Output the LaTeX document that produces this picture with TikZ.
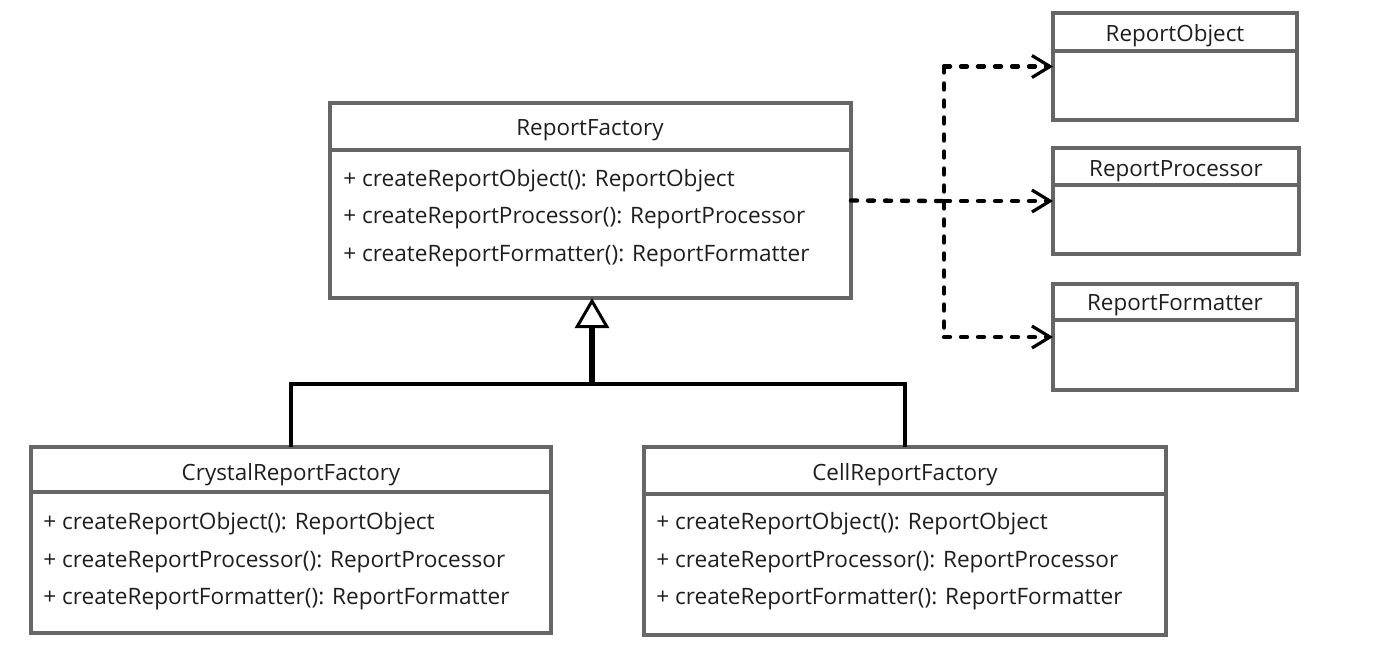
\documentclass[tikz,border=0pt]{standalone}
\usepackage{fontspec}
\setmainfont{Open Sans}
\usepackage{tikz}
\usetikzlibrary{arrows.meta, calc}

\definecolor{boxgray}{HTML}{666666}
\definecolor{inkblack}{HTML}{1E1E1E}

\tikzset{
    classbox/.style={draw=boxgray, line width=2pt, anchor=north west, inner sep=0pt, outer sep=0pt},
    divider/.style={draw=boxgray, line width=2pt},
    title/.style={font=\fontsize{11.2}{13}\selectfont, text=inkblack, inner sep=0pt},
    method/.style={font=\fontsize{11.3}{13}\selectfont, text=inkblack, anchor=west, inner sep=0pt},
    dep/.style={draw=black, line width=2.2pt, line cap=round, dash pattern=on 3pt off 5.5pt},
    deptip/.style={-{Straight Barb[length=9pt, width=11pt, line width=1.6pt]}},
    inh/.style={draw=black, line width=2pt},
    gen/.style={draw=black, line width=3pt, -{Triangle[open, fill=white, length=15pt, width=17pt, line width=1.5pt]}}
}

\begin{document}
\begin{tikzpicture}[x=0.5pt, y=-0.5pt]
    \useasboundingbox (0,0) rectangle (1400,647);

    % abstract factory
    \node[classbox, minimum width=260.5pt, minimum height=97.5pt] (fac) at (330,103) {};
    \draw[divider] (330,150) -- (851,150);
    \node[title] (facTitle) at (590,130) {ReportFactory};
    \node[method] (facM1) at (343,181) {+ createReportObject(): ReportObject};
    \node[method] (facM2) at (343,218) {+ createReportProcessor(): ReportProcessor};
    \node[method] (facM3) at (343,256) {+ createReportFormatter(): ReportFormatter};

    % products
    \node[classbox, minimum width=122pt, minimum height=53.5pt] (obj) at (1053,13) {};
    \draw[divider] (1053,51) -- (1297,51);
    \node[title] (objTitle) at (1175,36) {ReportObject};

    \node[classbox, minimum width=123pt, minimum height=53pt] (proc) at (1053,148) {};
    \draw[divider] (1053,185) -- (1299,185);
    \node[title] (procTitle) at (1176,171) {ReportProcessor};

    \node[classbox, minimum width=122pt, minimum height=53pt] (fmt) at (1053,284) {};
    \draw[divider] (1053,320) -- (1297,320);
    \node[title] (fmtTitle) at (1175,305) {ReportFormatter};

    % concrete factories
    \node[classbox, minimum width=260pt, minimum height=93pt] (crys) at (31,447) {};
    \draw[divider] (31,492) -- (551,492);
    \node[title] (crysTitle) at (291,475) {CrystalReportFactory};
    \node[method] (crysM1) at (43,524) {+ createReportObject(): ReportObject};
    \node[method] (crysM2) at (43,562) {+ createReportProcessor(): ReportProcessor};
    \node[method] (crysM3) at (43,599) {+ createReportFormatter(): ReportFormatter};

    \node[classbox, minimum width=261pt, minimum height=94pt] (cell) at (644,447) {};
    \draw[divider] (644,494) -- (1166,494);
    \node[title] (cellTitle) at (905,475) {CellReportFactory};
    \node[method] (cellM1) at (656,524) {+ createReportObject(): ReportObject};
    \node[method] (cellM2) at (656,562) {+ createReportProcessor(): ReportProcessor};
    \node[method] (cellM3) at (656,599) {+ createReportFormatter(): ReportFormatter};

    % dependencies
    \coordinate (split) at (944,201);
    \draw[dep] (fac.east) -- (split);
    \draw[dep] (split |- obj.west) -- (split |- fmt.west);
    \draw[dep, deptip] (split |- obj.west) -- (obj.west);
    \draw[dep, deptip] (split) -- (proc.west);
    \draw[dep, deptip] (split |- fmt.west) -- (fmt.west);

    % inheritance
    \coordinate (joint) at (592,384);
    \draw[inh] (crys.north) |- (joint) -| (cell.north);
    \draw[gen] (joint) -- (joint |- fac.south);
\end{tikzpicture}
\end{document}
